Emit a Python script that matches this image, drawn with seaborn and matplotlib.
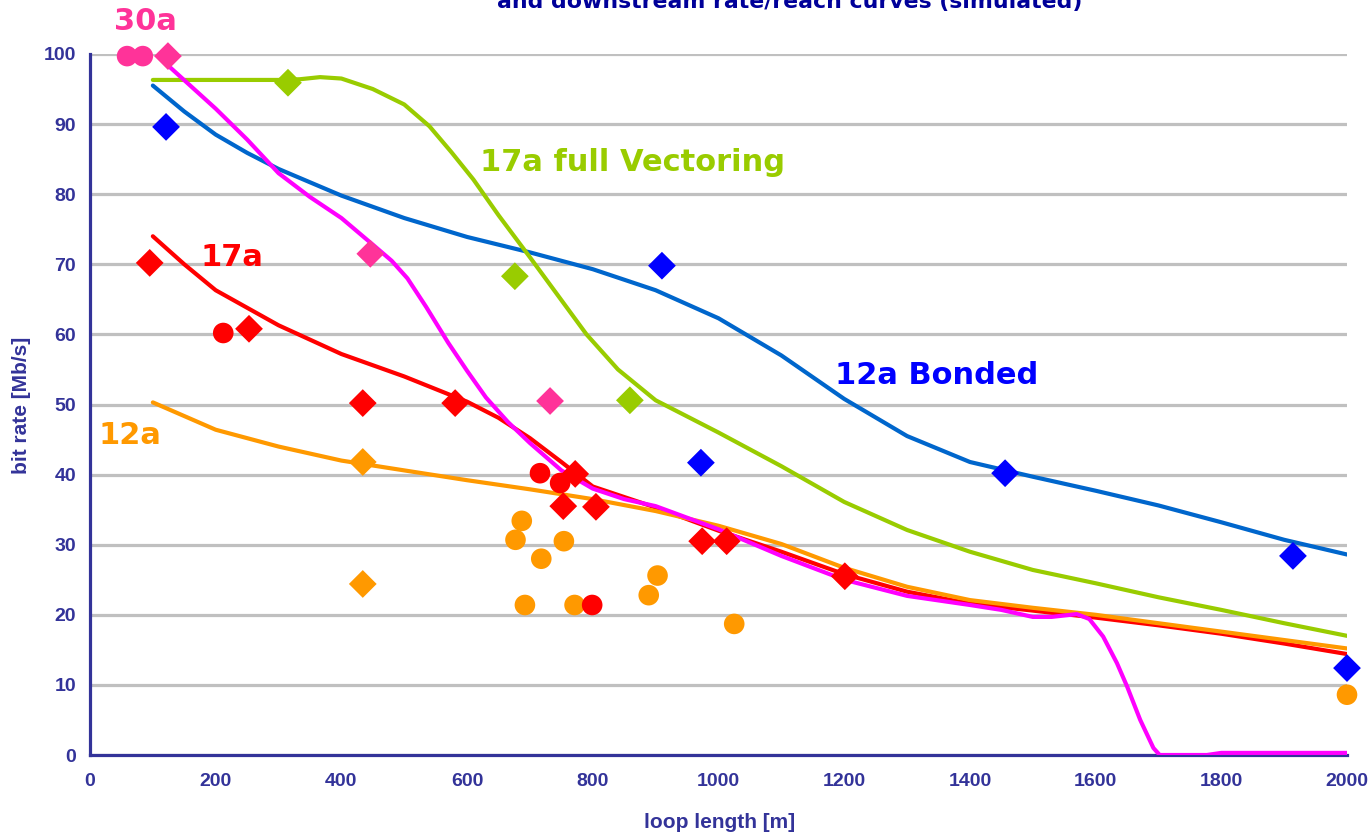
import numpy as np
import pandas as pd
import matplotlib
matplotlib.use("Agg")
import matplotlib.pyplot as plt
import seaborn as sns

# ---------------- data ----------------
bonded12a_x = [100, 150, 200, 250, 300, 400, 500, 600, 700, 800, 900, 1000, 1100, 1200, 1300, 1400, 1500, 1600, 1700, 1800, 1900, 2000]
bonded12a_y = [95.5, 91.8, 88.5, 85.9, 83.6, 79.8, 76.6, 73.9, 71.7, 69.3, 66.3, 62.3, 57.0, 50.8, 45.5, 41.8, 39.7, 37.7, 35.6, 33.2, 30.7, 28.6]

vect17a_x = [100, 200, 300, 334, 366, 400, 450, 500, 540, 575, 610, 650, 700, 745, 790, 840, 900, 950, 1000, 1100, 1200, 1300, 1400, 1500, 1600, 1700, 1800, 1900, 2000]
vect17a_y = [96.3, 96.3, 96.3, 96.4, 96.7, 96.5, 95.0, 92.8, 89.7, 86.0, 82.1, 77.0, 71.0, 65.5, 60.0, 55.0, 50.6, 48.3, 46.0, 41.2, 36.1, 32.1, 29.0, 26.4, 24.5, 22.5, 20.7, 18.8, 17.0]

p17a_x = [100, 150, 200, 300, 400, 500, 600, 650, 700, 750, 800, 900, 1000, 1100, 1200, 1300, 1400, 1500, 1600, 1700, 1800, 1900, 2000]
p17a_y = [74.0, 70.0, 66.3, 61.3, 57.2, 54.0, 50.4, 48.1, 45.2, 41.8, 38.3, 35.3, 32.0, 29.0, 25.8, 23.3, 21.6, 20.6, 19.6, 18.5, 17.3, 15.9, 14.4]

p12a_x = [100, 200, 300, 400, 500, 600, 700, 800, 900, 1000, 1100, 1200, 1300, 1400, 1500, 1600, 1700, 1800, 1900, 2000]
p12a_y = [50.3, 46.4, 44.0, 42.0, 40.6, 39.2, 37.9, 36.5, 34.8, 32.7, 30.1, 26.7, 24.0, 22.1, 21.0, 20.0, 18.8, 17.6, 16.4, 15.2]

p30a_x = [120, 200, 250, 300, 350, 400, 450, 480, 505, 535, 570, 600, 630, 665, 700, 750, 800, 850, 900, 1000, 1100, 1200, 1300, 1400, 1450, 1500, 1530, 1570, 1590, 1612, 1634, 1650, 1671, 1692, 1702, 1777, 1800, 2000]
p30a_y = [98.7, 92.2, 87.8, 83.0, 79.6, 76.6, 72.8, 70.5, 68.0, 63.9, 58.8, 54.8, 51.0, 47.5, 44.5, 40.6, 38.0, 36.5, 35.5, 32.2, 28.4, 25.0, 22.7, 21.4, 20.7, 19.7, 19.7, 20.1, 19.4, 16.9, 13.1, 9.8, 5.0, 1.0, 0.0, 0.0, 0.3, 0.3]

# measured points
pts30a_dia_x = [124, 446, 732]
pts30a_dia_y = [99.7, 71.5, 50.5]
pts30a_cir_x = [59, 84]
pts30a_cir_y = [99.7, 99.7]

ptsvect_dia_x = [315, 676, 859]
ptsvect_dia_y = [95.9, 68.3, 50.6]

ptsbond_dia_x = [121, 910, 972, 1456, 1914, 2000]
ptsbond_dia_y = [89.6, 69.8, 41.7, 40.2, 28.4, 12.4]

pts17a_dia_x = [95, 253, 434, 581, 772, 753, 805, 974, 1013, 1201]
pts17a_dia_y = [70.2, 60.8, 50.2, 50.2, 40.1, 35.5, 35.4, 30.5, 30.5, 25.5]
pts17a_cir_x = [212, 716, 748, 799]
pts17a_cir_y = [60.2, 40.2, 38.8, 21.4]

pts12a_dia_x = [434, 434]
pts12a_dia_y = [41.8, 24.4]
pts12a_cir_x = [687, 677, 754, 718, 903, 889, 692, 771, 1025, 2000]
pts12a_cir_y = [33.4, 30.7, 30.5, 28.0, 25.6, 22.8, 21.4, 21.4, 18.7, 8.6]

x_ticks = [0, 200, 400, 600, 800, 1000, 1200, 1400, 1600, 1800, 2000]
y_ticks = [0, 10, 20, 30, 40, 50, 60, 70, 80, 90, 100]

title_text = "and downstream rate/reach curves (simulated)"
x_label = "loop length [m]"
y_label = "bit rate [Mb/s]"

# ---------------- styling ----------------
line_colors = {"12a Bonded": "#0066CC", "17a full Vectoring": "#99CC00", "17a": "#FF0000",
               "12a": "#FF9900", "30a": "#FF00FF"}
point_colors = {"12a Bonded": "#0000FF", "17a full Vectoring": "#99CC00", "17a": "#FF0000",
                "12a": "#FF9900", "30a": "#FF3399"}
axis_color = "#333399"

sns.set_theme(style="white")
plt.rcParams["font.family"] = ["DejaVu Sans"]

curves = pd.concat([
    pd.DataFrame({"x": bonded12a_x, "y": bonded12a_y, "series": "12a Bonded"}),
    pd.DataFrame({"x": vect17a_x, "y": vect17a_y, "series": "17a full Vectoring"}),
    pd.DataFrame({"x": p17a_x, "y": p17a_y, "series": "17a"}),
    pd.DataFrame({"x": p12a_x, "y": p12a_y, "series": "12a"}),
    pd.DataFrame({"x": p30a_x, "y": p30a_y, "series": "30a"}),
], ignore_index=True)

points = pd.concat([
    pd.DataFrame({"x": pts12a_cir_x, "y": pts12a_cir_y, "series": "12a", "kind": "circle"}),
    pd.DataFrame({"x": pts12a_dia_x, "y": pts12a_dia_y, "series": "12a", "kind": "diamond"}),
    pd.DataFrame({"x": pts17a_cir_x, "y": pts17a_cir_y, "series": "17a", "kind": "circle"}),
    pd.DataFrame({"x": pts17a_dia_x, "y": pts17a_dia_y, "series": "17a", "kind": "diamond"}),
    pd.DataFrame({"x": ptsvect_dia_x, "y": ptsvect_dia_y, "series": "17a full Vectoring", "kind": "diamond"}),
    pd.DataFrame({"x": ptsbond_dia_x, "y": ptsbond_dia_y, "series": "12a Bonded", "kind": "diamond"}),
    pd.DataFrame({"x": pts30a_cir_x, "y": pts30a_cir_y, "series": "30a", "kind": "circle"}),
    pd.DataFrame({"x": pts30a_dia_x, "y": pts30a_dia_y, "series": "30a", "kind": "diamond"}),
], ignore_index=True)

fig = plt.figure(figsize=(13.72, 8.36), dpi=100)
ax = fig.add_axes([90 / 1372, 1 - 755 / 836, (1347 - 90) / 1372, (755 - 54) / 836])

ax.set_axisbelow(True)
ax.yaxis.grid(True, color="#C0C0C0", linewidth=2.3)
ax.xaxis.grid(False)

sns.lineplot(data=curves, x="x", y="y", hue="series",
             hue_order=["12a Bonded", "17a full Vectoring", "17a", "12a", "30a"],
             palette=line_colors, estimator=None, sort=False, linewidth=3.0,
             legend=False, ax=ax, zorder=3)

for kind, mk, size in [("circle", "o", 220), ("diamond", "D", 200)]:
    sub = points[points["kind"] == kind]
    sns.scatterplot(data=sub, x="x", y="y", hue="series", palette=point_colors,
                    marker=mk, s=size, linewidth=0, legend=False, ax=ax,
                    zorder=4, clip_on=False)

ax.set_xlim(0, 2000)
ax.set_ylim(0, 100)
ax.set_xticks(x_ticks)
ax.set_yticks(y_ticks)

tick_font = dict(family=["Liberation Sans", "DejaVu Sans"], weight="bold", size=14)
ax.set_xticklabels([str(t) for t in x_ticks], color=axis_color, **tick_font)
ax.set_yticklabels([str(t) for t in y_ticks], color=axis_color, **tick_font)
ax.tick_params(axis="both", direction="out", length=5, width=2.2, color=axis_color)
ax.tick_params(axis="x", pad=8)
ax.tick_params(axis="y", pad=5)

for side in ["top", "right"]:
    ax.spines[side].set_visible(False)
for side in ["left", "bottom"]:
    ax.spines[side].set_color(axis_color)
    ax.spines[side].set_linewidth(2.3)
    ax.spines[side].set_zorder(2.5)

ax.set_xlabel("")
ax.set_ylabel("")
fig.text(720 / 1372, 1 - 822 / 836, x_label, ha="center", va="center",
         color=axis_color, family=["Liberation Sans", "DejaVu Sans"], weight="bold", size=15)
fig.text(22 / 1372, 1 - 405 / 836, y_label, ha="center", va="center", rotation=90,
         color=axis_color, family=["Liberation Sans", "DejaVu Sans"], weight="bold", size=15)

fig.text(790 / 1372, 1 - 2 / 836, title_text, ha="center", va="center",
         color="#000099", weight="bold", size=15.8)

ann_font = dict(weight="bold", size=22)
ax.text(89, 104.7, "30a", color="#FF3399", ha="center", va="center", clip_on=False, **ann_font)
ax.text(226, 70.9, "17a", color="#FF0000", ha="center", va="center", **ann_font)
ax.text(64, 45.6, "12a", color="#FF9900", ha="center", va="center", **ann_font)
ax.text(620, 84.5, "17a full Vectoring", color="#99CC00", ha="left", va="center", **ann_font)
ax.text(1185, 54.2, "12a Bonded", color="#0000FF", ha="left", va="center", **ann_font)

fig.savefig("out.png", dpi=100)
